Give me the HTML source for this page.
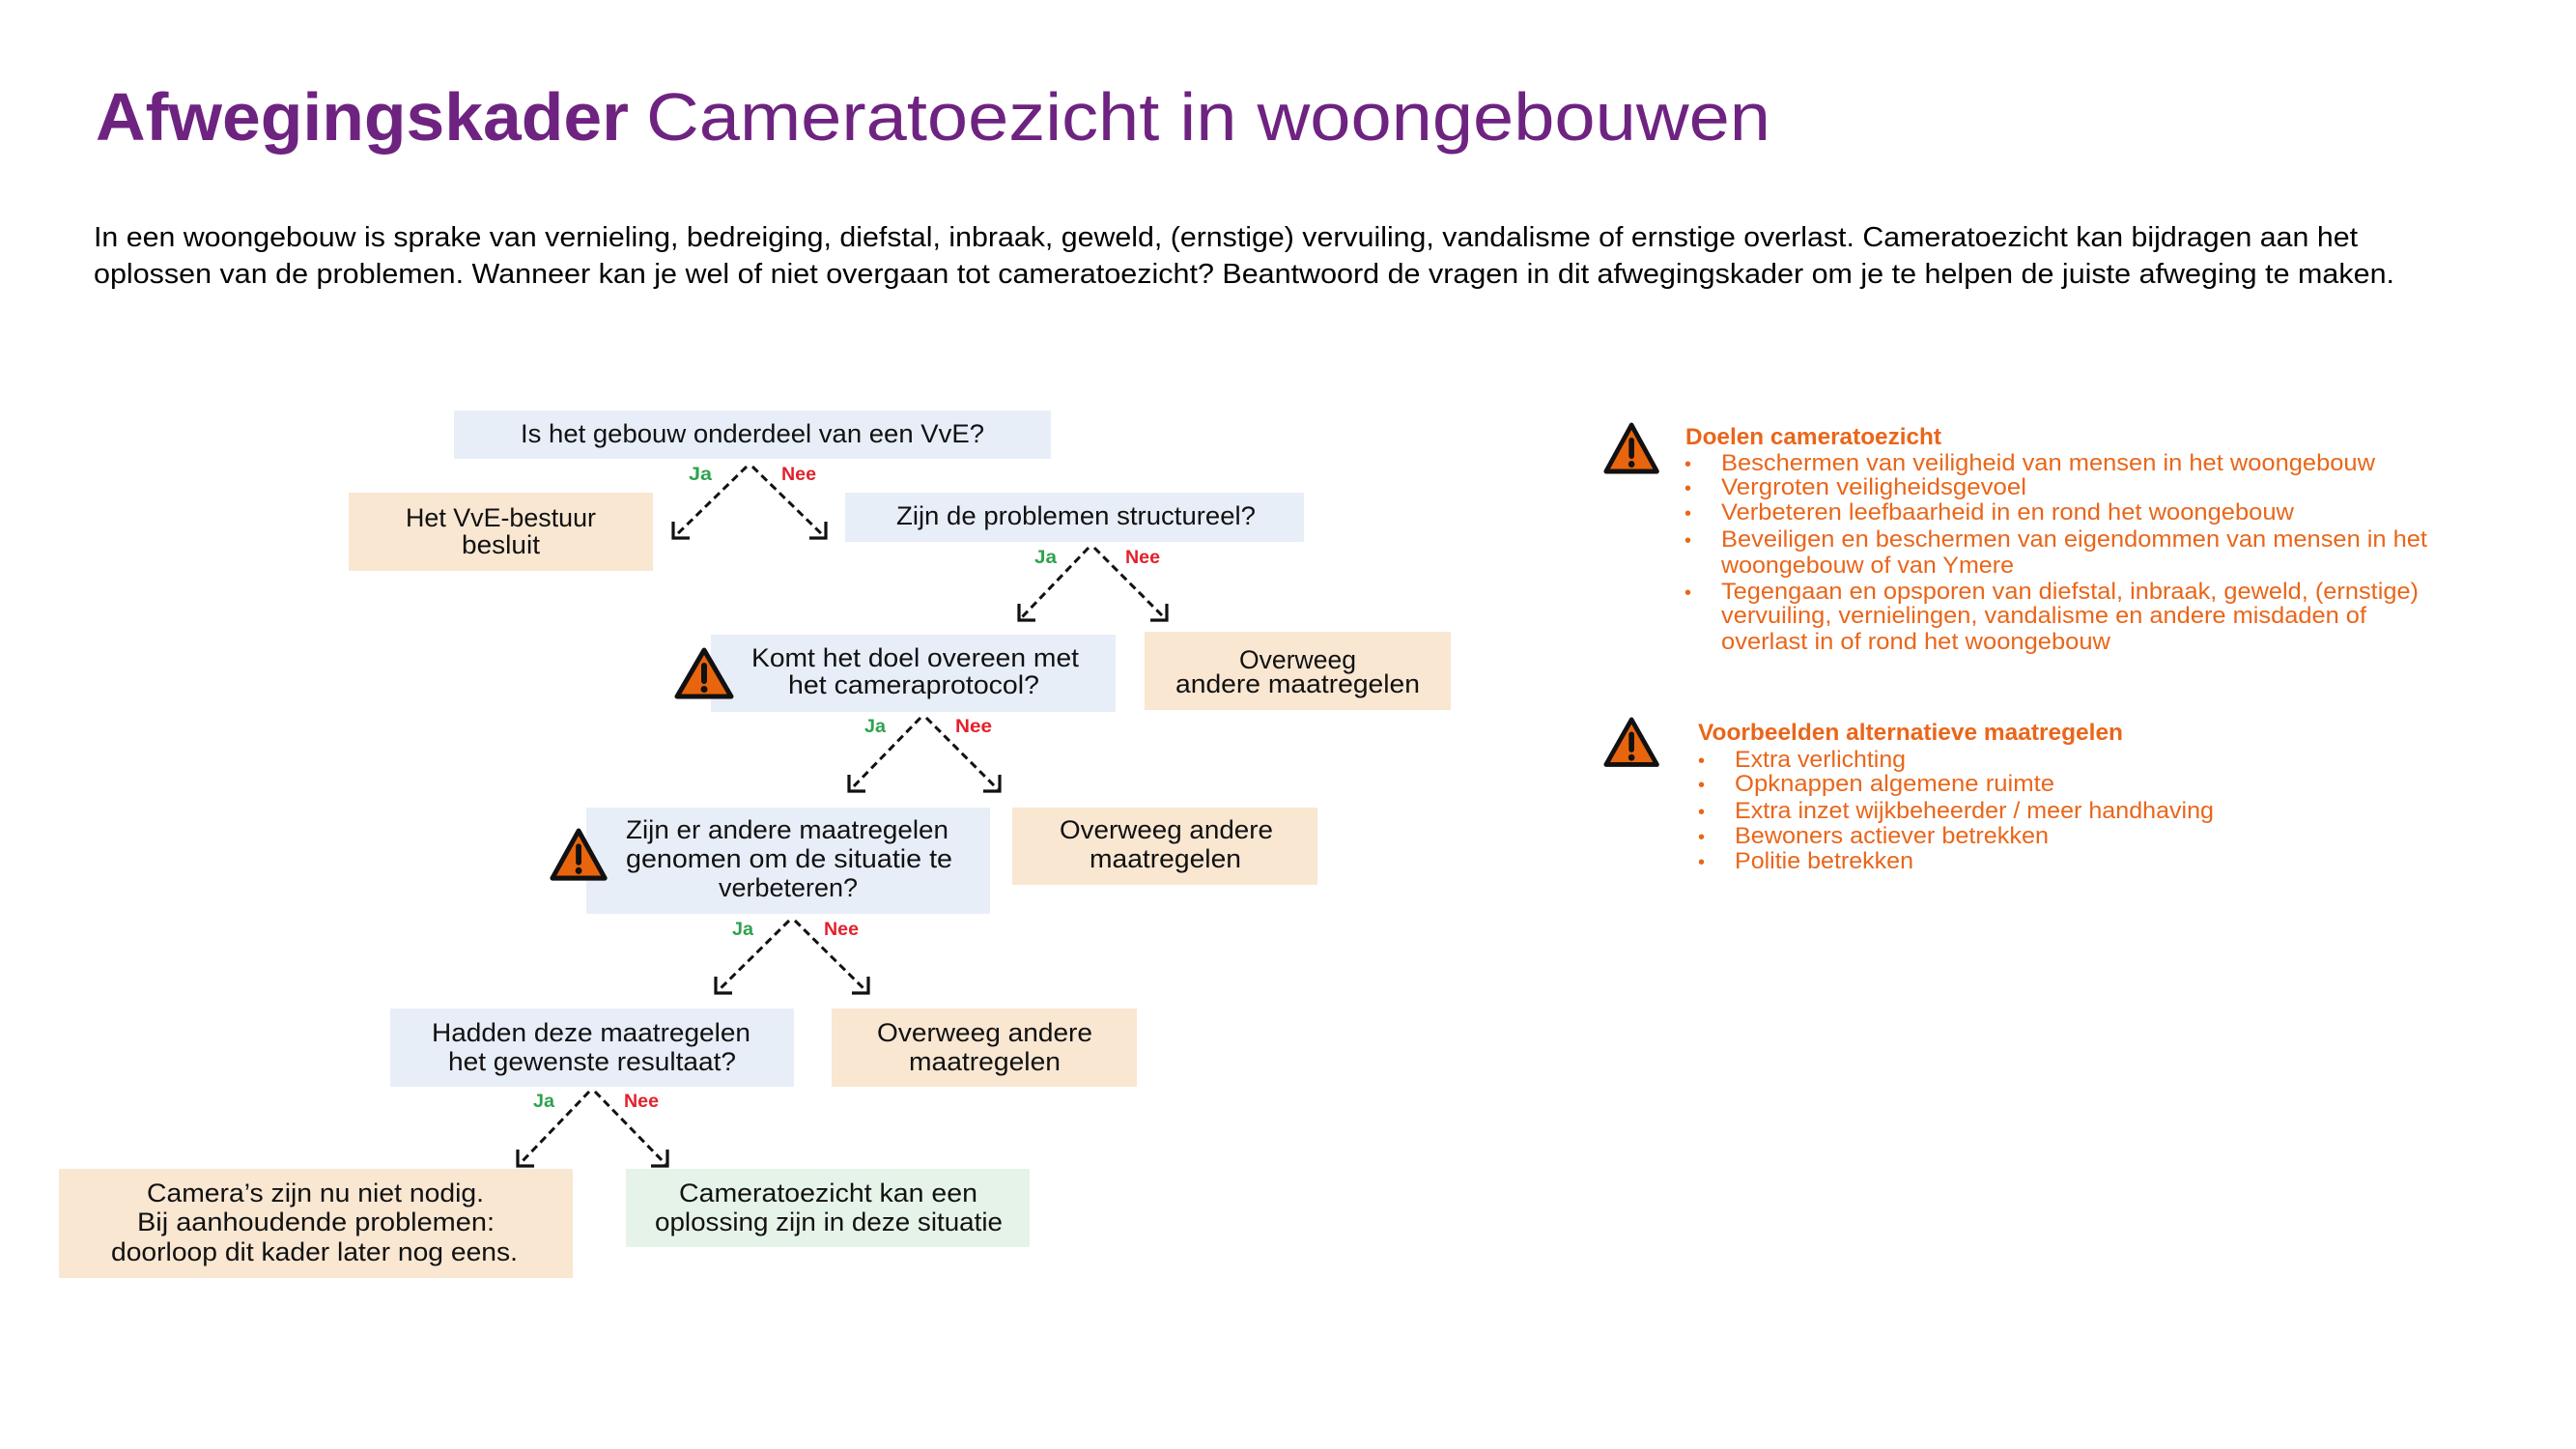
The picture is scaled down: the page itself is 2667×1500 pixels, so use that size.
<!DOCTYPE html>
<html>
<head>
<meta charset="utf-8">
<style>
  html,body{margin:0;padding:0;background:#fff;}
  svg{display:block;}
  .t{font-family:"Liberation Sans",Arial,sans-serif;}
</style>
</head>
<body>
<svg width="2667" height="1500" viewBox="0 0 2667 1500" xmlns="http://www.w3.org/2000/svg">
  <rect x="0" y="0" width="2667" height="1500" fill="#ffffff"/>

  <!-- Title -->
  <text class="t" x="99" y="145" font-size="70" font-weight="bold" fill="#6E2381" textLength="552" lengthAdjust="spacingAndGlyphs">Afwegingskader</text>
  <text class="t" x="669" y="145" font-size="70" fill="#6E2381" textLength="1164" lengthAdjust="spacingAndGlyphs">Cameratoezicht in woongebouwen</text>

  <!-- Intro paragraph -->
  <text class="t" x="97" y="255" font-size="29" fill="#000" textLength="2344" lengthAdjust="spacingAndGlyphs">In een woongebouw  is sprake van vernieling, bedreiging, diefstal, inbraak, geweld, (ernstige) vervuiling, vandalisme of ernstige overlast. Cameratoezicht kan bijdragen aan het</text>
  <text class="t" x="97" y="293" font-size="29" fill="#000" textLength="2382" lengthAdjust="spacingAndGlyphs">oplossen van de problemen.  Wanneer kan je wel of niet overgaan tot cameratoezicht? Beantwoord de vragen in dit afwegingskader om je te helpen de juiste afweging te maken.</text>

  <!-- Boxes -->
  <g>
    <rect x="470" y="425" width="618" height="50" fill="#E8EEF8"/>
    <rect x="361" y="510" width="315" height="81" fill="#F9E7D2"/>
    <rect x="875" y="510" width="475" height="51" fill="#E8EEF8"/>
    <rect x="736" y="657" width="419" height="80" fill="#E8EEF8"/>
    <rect x="1185" y="654" width="317" height="81" fill="#F9E7D2"/>
    <rect x="607" y="836" width="418" height="110" fill="#E8EEF8"/>
    <rect x="1048" y="836" width="316" height="80" fill="#F9E7D2"/>
    <rect x="404" y="1044" width="418" height="81" fill="#E8EEF8"/>
    <rect x="861" y="1044" width="316" height="81" fill="#F9E7D2"/>
    <rect x="61" y="1210" width="532" height="113" fill="#F9E7D2"/>
    <rect x="648" y="1210" width="418" height="81" fill="#E6F3E9"/>
  </g>

  <!-- Box texts -->
  <g class="t" font-size="27" fill="#111">
    <text x="539" y="458" textLength="480" lengthAdjust="spacingAndGlyphs">Is het gebouw onderdeel van een VvE?</text>

    <text x="420" y="545" textLength="197" lengthAdjust="spacingAndGlyphs">Het VvE-bestuur</text>
    <text x="478" y="573" textLength="81" lengthAdjust="spacingAndGlyphs">besluit</text>

    <text x="928" y="543" textLength="372" lengthAdjust="spacingAndGlyphs">Zijn de problemen structureel?</text>

    <text x="778" y="690" textLength="339" lengthAdjust="spacingAndGlyphs">Komt het doel overeen met</text>
    <text x="816" y="718" textLength="260" lengthAdjust="spacingAndGlyphs">het cameraprotocol?</text>

    <text x="1283" y="692" textLength="121" lengthAdjust="spacingAndGlyphs">Overweeg</text>
    <text x="1217" y="717" textLength="253" lengthAdjust="spacingAndGlyphs">andere maatregelen</text>

    <text x="648" y="868" textLength="334" lengthAdjust="spacingAndGlyphs">Zijn er andere maatregelen</text>
    <text x="648" y="898" textLength="338" lengthAdjust="spacingAndGlyphs">genomen om de situatie te</text>
    <text x="744" y="928" textLength="144" lengthAdjust="spacingAndGlyphs">verbeteren?</text>

    <text x="1097" y="868" textLength="221" lengthAdjust="spacingAndGlyphs">Overweeg andere</text>
    <text x="1128" y="898" textLength="157" lengthAdjust="spacingAndGlyphs">maatregelen</text>

    <text x="447" y="1078" textLength="330" lengthAdjust="spacingAndGlyphs">Hadden deze maatregelen</text>
    <text x="464" y="1108" textLength="298" lengthAdjust="spacingAndGlyphs">het gewenste resultaat?</text>

    <text x="908" y="1078" textLength="223" lengthAdjust="spacingAndGlyphs">Overweeg andere</text>
    <text x="941" y="1108" textLength="157" lengthAdjust="spacingAndGlyphs">maatregelen</text>

    <text x="152" y="1244" textLength="349" lengthAdjust="spacingAndGlyphs">Camera’s zijn nu niet nodig.</text>
    <text x="142" y="1274" textLength="370" lengthAdjust="spacingAndGlyphs">Bij aanhoudende  problemen:</text>
    <text x="115" y="1305" textLength="421" lengthAdjust="spacingAndGlyphs">doorloop dit kader later nog eens.</text>

    <text x="703" y="1244" textLength="309" lengthAdjust="spacingAndGlyphs">Cameratoezicht  kan een</text>
    <text x="678" y="1274" textLength="360" lengthAdjust="spacingAndGlyphs">oplossing zijn in deze situatie</text>
  </g>

  <!-- Dashed arrows -->
  <g fill="none" stroke="#111" stroke-width="3">
    <line x1="773" y1="483" x2="699" y2="555" stroke-dasharray="8 5"/>
    <line x1="779" y1="483" x2="853" y2="555" stroke-dasharray="8 5"/>
    <line x1="1127" y1="567" x2="1057" y2="640" stroke-dasharray="8 5"/>
    <line x1="1133" y1="567" x2="1206" y2="640" stroke-dasharray="8 5"/>
    <line x1="953" y1="743" x2="881" y2="817" stroke-dasharray="8 5"/>
    <line x1="959" y1="743" x2="1033" y2="817" stroke-dasharray="8 5"/>
    <line x1="817" y1="953" x2="743" y2="1026" stroke-dasharray="8 5"/>
    <line x1="823" y1="953" x2="897" y2="1026" stroke-dasharray="8 5"/>
    <line x1="610" y1="1130" x2="538" y2="1205" stroke-dasharray="8 5"/>
    <line x1="616" y1="1130" x2="689" y2="1205" stroke-dasharray="8 5"/>
  </g>
  <!-- Arrowheads -->
  <g fill="none" stroke="#111" stroke-width="3.2" stroke-linejoin="miter">
    <polyline points="697,540 697,557 714,557"/>
    <polyline points="855,540 855,557 838,557"/>
    <polyline points="1055,625 1055,642 1072,642"/>
    <polyline points="1208,625 1208,642 1191,642"/>
    <polyline points="879,802 879,819 896,819"/>
    <polyline points="1035,802 1035,819 1018,819"/>
    <polyline points="741,1011 741,1028 758,1028"/>
    <polyline points="899,1011 899,1028 882,1028"/>
    <polyline points="536,1190 536,1207 553,1207"/>
    <polyline points="691,1190 691,1207 674,1207"/>
  </g>

  <!-- Ja / Nee labels -->
  <g class="t" font-size="19" font-weight="bold">
    <text x="713" y="497" fill="#2EA24F" textLength="24" lengthAdjust="spacingAndGlyphs">Ja</text>
    <text x="809" y="497" fill="#E3212D" textLength="36" lengthAdjust="spacingAndGlyphs">Nee</text>
    <text x="1071" y="583" fill="#2EA24F" textLength="23" lengthAdjust="spacingAndGlyphs">Ja</text>
    <text x="1165" y="583" fill="#E3212D" textLength="36" lengthAdjust="spacingAndGlyphs">Nee</text>
    <text x="895" y="758" fill="#2EA24F" textLength="22" lengthAdjust="spacingAndGlyphs">Ja</text>
    <text x="989" y="758" fill="#E3212D" textLength="38" lengthAdjust="spacingAndGlyphs">Nee</text>
    <text x="758" y="968" fill="#2EA24F" textLength="22" lengthAdjust="spacingAndGlyphs">Ja</text>
    <text x="853" y="968" fill="#E3212D" textLength="36" lengthAdjust="spacingAndGlyphs">Nee</text>
    <text x="552" y="1146" fill="#2EA24F" textLength="22" lengthAdjust="spacingAndGlyphs">Ja</text>
    <text x="646" y="1146" fill="#E3212D" textLength="36" lengthAdjust="spacingAndGlyphs">Nee</text>
  </g>

  <!-- Warning triangles -->
  <g transform="translate(698,670)">
    <path d="M31,3 L59,51 L3,51 Z" fill="#E8650E" stroke="#111" stroke-width="5" stroke-linejoin="round"/>
    <rect x="28" y="16" width="6" height="22" rx="3" fill="#111"/>
    <circle cx="31" cy="43.5" r="3.5" fill="#111"/>
  </g>
  <g transform="translate(569,857) scale(0.97,1.02)">
    <path d="M31,3 L59,51 L3,51 Z" fill="#E8650E" stroke="#111" stroke-width="5" stroke-linejoin="round"/>
    <rect x="28" y="16" width="6" height="22" rx="3" fill="#111"/>
    <circle cx="31" cy="43.5" r="3.5" fill="#111"/>
  </g>
  <g transform="translate(1660,437) scale(0.94,1)">
    <path d="M31,3 L59,51 L3,51 Z" fill="#E8650E" stroke="#111" stroke-width="5" stroke-linejoin="round"/>
    <rect x="28" y="16" width="6" height="22" rx="3" fill="#111"/>
    <circle cx="31" cy="43.5" r="3.5" fill="#111"/>
  </g>
  <g transform="translate(1660,742) scale(0.94,0.97)">
    <path d="M31,3 L59,51 L3,51 Z" fill="#E8650E" stroke="#111" stroke-width="5" stroke-linejoin="round"/>
    <rect x="28" y="16" width="6" height="22" rx="3" fill="#111"/>
    <circle cx="31" cy="43.5" r="3.5" fill="#111"/>
  </g>

  <!-- Right panel: Doelen cameratoezicht -->
  <g class="t" fill="#E9661A" font-size="24">
    <text x="1745" y="460" font-weight="bold" textLength="265" lengthAdjust="spacingAndGlyphs">Doelen cameratoezicht</text>
    <text x="1744" y="487" font-size="20">•</text>
    <text x="1782" y="487" textLength="677" lengthAdjust="spacingAndGlyphs">Beschermen van veiligheid van mensen in het woongebouw</text>
    <text x="1744" y="512" font-size="20">•</text>
    <text x="1782" y="512" textLength="316" lengthAdjust="spacingAndGlyphs">Vergroten veiligheidsgevoel</text>
    <text x="1744" y="538" font-size="20">•</text>
    <text x="1782" y="538" textLength="593" lengthAdjust="spacingAndGlyphs">Verbeteren leefbaarheid in en rond het woongebouw</text>
    <text x="1744" y="566" font-size="20">•</text>
    <text x="1782" y="566" textLength="731" lengthAdjust="spacingAndGlyphs">Beveiligen en beschermen van eigendommen van mensen in het</text>
    <text x="1782" y="593" textLength="303" lengthAdjust="spacingAndGlyphs">woongebouw of van Ymere</text>
    <text x="1744" y="620" font-size="20">•</text>
    <text x="1782" y="620" textLength="722" lengthAdjust="spacingAndGlyphs">Tegengaan en opsporen van diefstal, inbraak, geweld, (ernstige)</text>
    <text x="1782" y="645" textLength="668" lengthAdjust="spacingAndGlyphs">vervuiling, vernielingen, vandalisme en andere misdaden of</text>
    <text x="1782" y="672" textLength="403" lengthAdjust="spacingAndGlyphs">overlast in of rond het woongebouw</text>
  </g>

  <!-- Right panel: Voorbeelden alternatieve maatregelen -->
  <g class="t" fill="#E9661A" font-size="24">
    <text x="1758" y="766" font-weight="bold" textLength="440" lengthAdjust="spacingAndGlyphs">Voorbeelden alternatieve maatregelen</text>
    <text x="1758" y="794" font-size="20">•</text>
    <text x="1796" y="794" textLength="177" lengthAdjust="spacingAndGlyphs">Extra verlichting</text>
    <text x="1758" y="819" font-size="20">•</text>
    <text x="1796" y="819" textLength="331" lengthAdjust="spacingAndGlyphs">Opknappen algemene ruimte</text>
    <text x="1758" y="847" font-size="20">•</text>
    <text x="1796" y="847" textLength="496" lengthAdjust="spacingAndGlyphs">Extra inzet wijkbeheerder / meer handhaving</text>
    <text x="1758" y="873" font-size="20">•</text>
    <text x="1796" y="873" textLength="325" lengthAdjust="spacingAndGlyphs">Bewoners actiever betrekken</text>
    <text x="1758" y="899" font-size="20">•</text>
    <text x="1796" y="899" textLength="185" lengthAdjust="spacingAndGlyphs">Politie betrekken</text>
  </g>
</svg>
</body>
</html>
